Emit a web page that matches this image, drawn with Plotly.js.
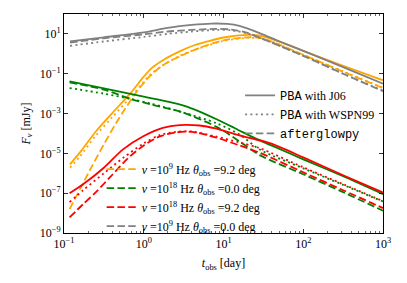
<!DOCTYPE html>
<html><head><meta charset="utf-8">
<script src="https://cdn.plot.ly/plotly-3.0.1.min.js"></script>
<style>html,body{margin:0;padding:0;background:#fff}</style>
</head><body><div id="chart" style="width:407px;height:283px"></div>
<script>
// values, as log10(t_obs/day) and log10(F_nu/mJy)
const orangeJ06_logt = [-0.925,-0.8,-0.6,-0.4,-0.16,0,0.1,0.25,0.45,0.6,0.8,1.0,1.3,1.45,1.6,2.0,2.5,3.0];
const orangeJ06_logF = [-5.55,-4.95,-3.9,-3.0,-1.95,-1.15,-0.72,-0.3,0.12,0.38,0.62,0.82,0.95,0.92,0.75,0.15,-0.6,-1.33];
const orangeW99_logt = [-0.925,-0.8,-0.6,-0.4,-0.16,0,0.1,0.25,0.45,0.6,0.8,1.0,1.3,1.45,1.6,2.0,2.5,3.0];
const orangeW99_logF = [-5.72,-5.15,-4.1,-3.2,-2.15,-1.4,-0.98,-0.55,-0.1,0.15,0.42,0.65,0.8,0.78,0.62,-0.05,-0.88,-1.7];
const orangeAG_logt  = [-0.93,-0.8,-0.65,-0.5,-0.35,-0.24,-0.1,0.07,0.24,0.47,0.7,1.0,1.3,1.45,1.6,2.0,2.5,3.0];
const orangeAG_logF  = [-7.8,-6.8,-5.65,-4.55,-3.5,-2.8,-1.97,-1.15,-0.57,-0.1,0.3,0.68,0.83,0.8,0.62,-0.05,-0.9,-1.72];

const greenJ06_logt = [-0.93,-0.5,0,0.3,0.5,0.7,0.92,1.15,1.4,1.6,2.0,2.5,3.0];
const greenJ06_logF = [-1.38,-1.73,-2.15,-2.4,-2.6,-2.9,-3.3,-3.75,-4.25,-4.6,-5.3,-6.15,-7.05];
const greenW99_logt = [-0.93,-0.5,-0.16,0.09,0.5,0.92,1.2,1.46,2.0,2.5,3.0];
const greenW99_logF = [-1.72,-2.0,-2.27,-2.5,-2.95,-3.5,-4.05,-4.82,-5.75,-6.58,-7.42];
const greenAG_logt  = [-0.93,-0.5,-0.16,0.1,0.49,0.92,1.2,1.46,2.0,2.5,3.0];
const greenAG_logF  = [-1.43,-1.8,-2.27,-2.55,-2.95,-3.68,-4.4,-5.1,-6.05,-6.95,-7.88];

const redJ06_logt = [-0.93,-0.76,-0.5,-0.26,0,0.24,0.45,0.7,0.9,1.13,1.35,1.59,2.0,2.5,3.0];
const redJ06_logF = [-7.0,-6.55,-5.72,-4.8,-4.13,-3.72,-3.58,-3.6,-3.75,-4.02,-4.25,-4.5,-5.2,-6.1,-6.97];
const redW99_logt = [-0.93,-0.76,-0.5,-0.25,0,0.2,0.4,0.6,0.9,1.2,1.46,2.0,2.5,3.0];
const redW99_logF = [-7.45,-6.85,-6.0,-5.2,-4.5,-4.08,-3.92,-3.9,-4.15,-4.45,-4.75,-5.7,-6.55,-7.4];
const redAG_logt  = [-0.93,-0.76,-0.6,-0.4,-0.2,0,0.2,0.4,0.6,0.9,1.2,1.46,2.0,2.5,3.0];
const redAG_logF  = [-8.22,-7.55,-6.95,-6.1,-5.25,-4.6,-4.15,-3.95,-3.92,-4.2,-4.6,-4.98,-5.95,-6.85,-7.75];

const grayJ06_logt = [-0.925,-0.5,0,0.3,0.6,0.85,1.05,1.2,1.46,1.7,2.0,2.5,3.0];
const grayJ06_logF = [0.62,0.83,1.08,1.3,1.45,1.52,1.5,1.4,1.03,0.63,0.15,-0.67,-1.5];
const grayW99_logt = [-0.925,-0.5,0,0.3,0.6,0.9,1.1,1.3,1.46,2.0,2.5,3.0];
const grayW99_logF = [0.4,0.62,0.85,1.0,1.12,1.2,1.18,1.02,0.8,-0.1,-1.0,-1.85];
const grayAG_logt  = [-0.925,-0.5,0,0.3,0.6,0.9,1.1,1.3,1.46,2.0,2.5,3.0];
const grayAG_logF  = [0.56,0.78,0.98,1.12,1.2,1.25,1.22,1.05,0.8,-0.1,-1.0,-1.88];

const caseLabels = [
  '<i>ν</i> =10<sup>9</sup> Hz <i>θ</i><sub>obs</sub> =9.2 deg',
  '<i>ν</i> =10<sup>18</sup> Hz <i>θ</i><sub>obs</sub> =0.0 deg',
  '<i>ν</i> =10<sup>18</sup> Hz <i>θ</i><sub>obs</sub> =9.2 deg',
  '<i>ν</i> =10<sup>9</sup> Hz <i>θ</i><sub>obs</sub> =0.0 deg'
];
const caseColors = ['orange','green','red','gray'];
const modelLabels = [
  '<span style="font-family:\'Liberation Mono\'">PBA</span><span style="font-family:\'Liberation Serif\'"> with J06</span>',
  '<span style="font-family:\'Liberation Mono\'">PBA</span><span style="font-family:\'Liberation Serif\'"> with WSPN99</span>',
  '<span style="font-family:\'Liberation Mono\'">afterglowpy</span>'
];

const DASH = '7.5px,3.3px', DOT = '2px,3.3px', LW = 1.8;
const p10 = a => a.map(v => Math.pow(10, v));

const cases = [
  [orangeJ06_logt, orangeJ06_logF, orangeW99_logt, orangeW99_logF, orangeAG_logt, orangeAG_logF],
  [greenJ06_logt, greenJ06_logF, greenW99_logt, greenW99_logF, greenAG_logt, greenAG_logF],
  [redJ06_logt, redJ06_logF, redW99_logt, redW99_logF, redAG_logt, redAG_logF],
  [grayJ06_logt, grayJ06_logF, grayW99_logt, grayW99_logF, grayAG_logt, grayAG_logF]
];

const traces = [];
cases.forEach((c, i) => {
  const col = caseColors[i];
  traces.push({x:p10(c[0]), y:p10(c[1]), mode:'lines', line:{color:col, width:LW, shape:'spline', smoothing:0.8}, showlegend:false, hoverinfo:'skip'});
  traces.push({x:p10(c[2]), y:p10(c[3]), mode:'lines', line:{color:col, width:LW, dash:DOT, shape:'spline', smoothing:0.8}, showlegend:false, hoverinfo:'skip'});
  traces.push({x:p10(c[4]), y:p10(c[5]), mode:'lines', line:{color:col, width:LW, dash:DASH, shape:'spline', smoothing:0.8}, name:caseLabels[i], showlegend:true, legend:'legend2'});
});
// line-style legend (gray)
const modelDash = ['solid', DOT, DASH];
modelLabels.forEach((lab, k) => {
  traces.push({x:[null], y:[null], mode:'lines', line:{color:'gray', width:LW, dash:modelDash[k]}, name:lab, showlegend:true, legend:'legend'});
});

const minorX = [];
[0.1,1,10,100].forEach(d => { for (let m = 2; m <= 9; m++) minorX.push(m*d); });

const serif = 'Liberation Serif';
const layout = {
  width:407, height:283,
  margin:{l:64, r:24, t:14, b:50},
  paper_bgcolor:'#fff', plot_bgcolor:'#fff',
  font:{family:serif, size:12, color:'#000'},
  xaxis:{
    type:'log', range:[-1,3],
    tickvals:[0.1,1,10,100,1000],
    ticktext:['10<sup>−1</sup>','10<sup>0</sup>','10<sup>1</sup>','10<sup>2</sup>','10<sup>3</sup>'],
    ticks:'inside', ticklen:4, tickwidth:0.8, tickcolor:'#000',
    minor:{tickvals:minorX, ticks:'inside', ticklen:2, tickwidth:0.6, tickcolor:'#000'},
    showline:true, linecolor:'#000', linewidth:1, mirror:'allticks',
    showgrid:false, zeroline:false,
    tickfont:{family:serif, size:12},
    title:{text:'<i>t</i><sub>obs</sub> [day]', font:{family:serif, size:12}, standoff:8}
  },
  yaxis:{
    type:'log', range:[-9,2],
    tickvals:[1e-9,1e-7,1e-5,1e-3,1e-1,1e1],
    ticktext:['10<sup>−9</sup>','10<sup>−7</sup>','10<sup>−5</sup>','10<sup>−3</sup>','10<sup>−1</sup>','10<sup>1</sup>'],
    ticks:'inside', ticklen:4, tickwidth:0.8, tickcolor:'#000',
    showline:true, linecolor:'#000', linewidth:1, mirror:'allticks',
    showgrid:false, zeroline:false,
    tickfont:{family:serif, size:12},
    title:{text:'<i>F</i><sub><i>ν</i></sub> [mJy]', font:{family:serif, size:12}, standoff:6}
  },
  legend:{x:0.552, y:0.695, xanchor:'left', yanchor:'top', bgcolor:'rgba(0,0,0,0)', borderwidth:0,
          font:{family:serif, size:12}, traceorder:'normal'},
  legend2:{x:0.118, y:0.358, xanchor:'left', yanchor:'top', bgcolor:'rgba(0,0,0,0)', borderwidth:0,
          font:{family:serif, size:12}, traceorder:'normal'},
  showlegend:true
};
Plotly.newPlot('chart', traces, layout, {staticPlot:true, displayModeBar:false});
</script>
</body></html>
